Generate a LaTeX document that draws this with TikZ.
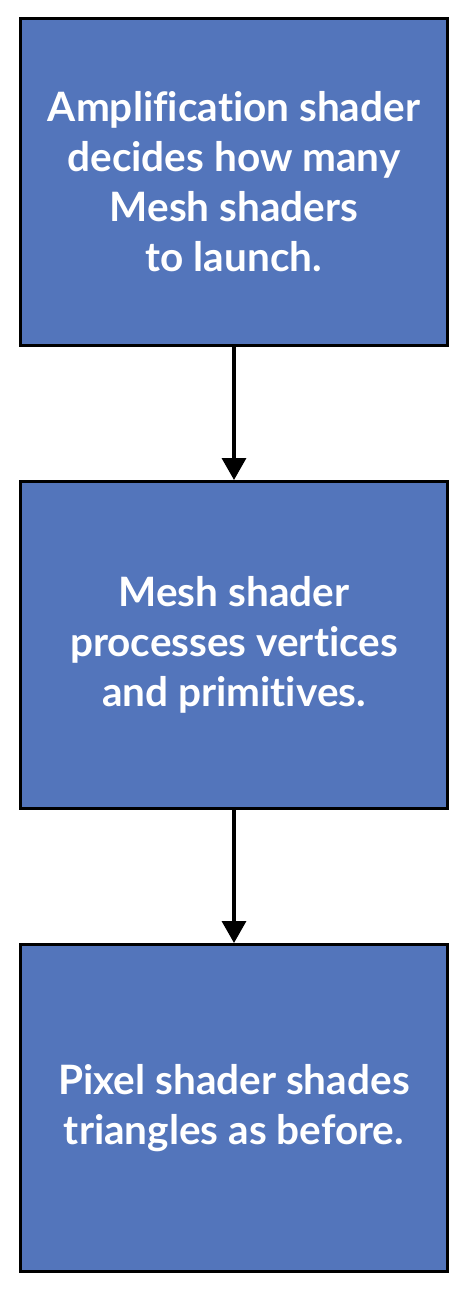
\documentclass[tikz,border=0pt]{standalone}
\usepackage{fontspec}
\setmainfont{Lato}[Ligatures=NoCommon]
\usepackage{tikz}
\usetikzlibrary{positioning,arrows.meta}
\definecolor{stageblue}{HTML}{5375BB}

\begin{document}
\begin{tikzpicture}[x=1pt,y=1pt,
  stage/.style={draw=black, line width=3pt, fill=stageblue, text=white,
    minimum width=427pt, minimum height=327pt, inner sep=0pt, align=center,
    font=\fontsize{40.5}{50}\selectfont\bfseries},
  node distance=133pt]
 \useasboundingbox (0,0) rectangle (466,-1290);
 \node[stage] (amp) at (234,-182) {Amplification shader\\decides how many\\Mesh shaders\\to launch.};
 \node[stage, below=of amp] (mesh) {Mesh shader\\processes vertices\\and primitives.};
 \node[stage, below=of mesh] (pixel) {Pixel shader shades\\triangles as before.};
 \draw[-{Triangle[width=24pt,length=22pt]}, line width=3.5pt] (amp) -- (mesh);
 \draw[-{Triangle[width=24pt,length=22pt]}, line width=3.5pt] (mesh) -- (pixel);
\end{tikzpicture}
\end{document}
